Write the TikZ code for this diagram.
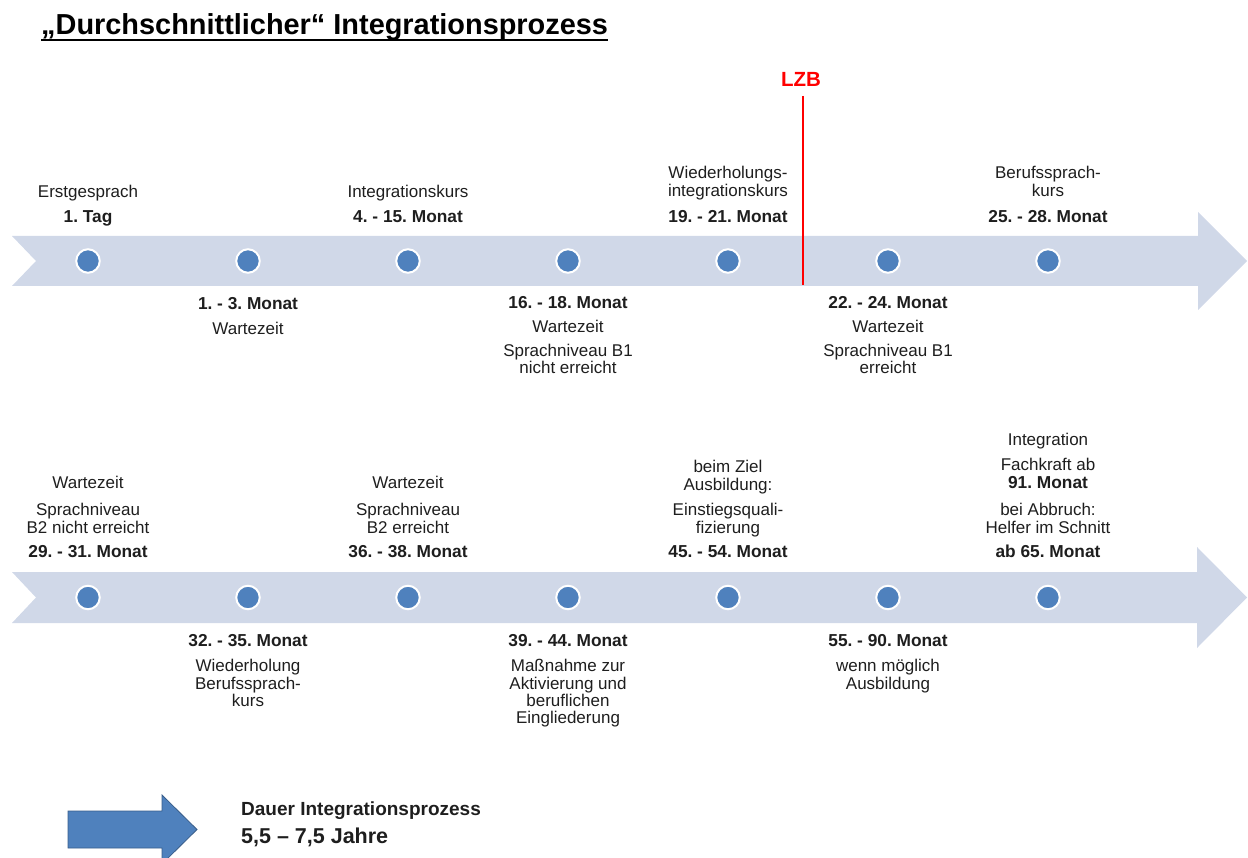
\documentclass[tikz,border=0pt]{standalone}
\usepackage{fontspec}
\setmainfont{Liberation Sans}
\usetikzlibrary{calc}
\frenchspacing
\definecolor{bandc}{HTML}{D0D8E8}
\definecolor{dotc}{HTML}{4F81BD}
\definecolor{arrowline}{HTML}{385D8A}
\definecolor{textc}{HTML}{1E1E1E}
\definecolor{lzbred}{HTML}{FF0000}
\tikzset{
  txt/.style={anchor=base, inner sep=0pt, text=textc, font=\frenchspacing\fontsize{17}{20}\selectfont},
  btxt/.style={txt, font=\frenchspacing\fontsize{17.3}{20}\selectfont\bfseries},
  dot/.style={circle, fill=dotc, draw=white, line width=2pt, minimum size=23.5pt, inner sep=0pt},
  band/.style={fill=bandc, draw=none}
}
\begin{document}
\begin{tikzpicture}[x=1pt,y=-1pt]
\useasboundingbox (0,0) rectangle (1248,858);
\clip (0,0) rectangle (1248,858);

% title
\node[anchor=base west, inner sep=0pt, font=\fontsize{28.9}{32}\selectfont\bfseries] (title) at (41,35) {„Durchschnittlicher“ Integrationsprozess};
\draw[line width=2.2pt] ($(title.base west)+(0,4.8)$) -- ($(title.base east)+(0,4.8)$);

% bands
\fill[band] (12,236) -- (1198,236) -- (1198,212) -- (1247,261) -- (1198,310) -- (1198,286) -- (12,286) -- (36,261) -- cycle;
\fill[band] (12,572) -- (1197,572) -- (1197,547) -- (1247,597.5) -- (1197,648) -- (1197,623) -- (12,623) -- (36,597.5) -- cycle;

% LZB
\node[anchor=base, inner sep=0pt, text=lzbred, font=\fontsize{20.5}{22}\selectfont\bfseries] (lzb) at (801,87) {LZB};
\coordinate (lzbtop) at (803,96);
\coordinate (lzbbot) at (803,285);
\draw[lzbred, line width=1.3pt] (lzbtop) -- (lzbbot);

% dots
\foreach \i/\x in {1/88,2/248,3/408,4/568,5/728,6/888,7/1048}{
  \node[dot] (a\i) at (\x,261) {};
  \node[dot] (b\i) at (\x,597.5) {};
}

% row 1 texts
\node[txt]  (a1t1) at (88,198) {Erstgesprach};
\node[btxt] (a1t2) at (88,223) {1. Tag};

\node[btxt] (a2t1) at (248,310) {1. - 3. Monat};
\node[txt]  (a2t2) at (248,335) {Wartezeit};

\node[txt]  (a3t1) at (408,198) {Integrationskurs};
\node[btxt] (a3t2) at (408,223) {4. - 15. Monat};

\node[btxt] (a4t1) at (568,309) {16. - 18. Monat};
\node[txt]  (a4t2) at (568,333) {Wartezeit};
\node[txt]  (a4t3) at (568,357) {Sprachniveau B1};
\node[txt]  (a4t4) at (568,374) {nicht erreicht};

\node[txt]  (a5t1) at (728,179) {Wiederholungs-};
\node[txt]  (a5t2) at (728,197) {integrationskurs};
\node[btxt] (a5t3) at (728,223) {19. - 21. Monat};

\node[btxt] (a6t1) at (888,309) {22. - 24. Monat};
\node[txt]  (a6t2) at (888,333) {Wartezeit};
\node[txt]  (a6t3) at (888,357) {Sprachniveau B1};
\node[txt]  (a6t4) at (888,374) {erreicht};

\node[txt]  (a7t1) at (1048,179) {Berufssprach-};
\node[txt]  (a7t2) at (1048,197) {kurs};
\node[btxt] (a7t3) at (1048,223) {25. - 28. Monat};

% row 2 texts
\node[txt]  (b1t1) at (88,489) {Wartezeit};
\node[txt]  (b1t2) at (88,515) {Sprachniveau};
\node[txt]  (b1t3) at (88,533) {B2 nicht erreicht};
\node[btxt] (b1t4) at (88,557) {29. - 31. Monat};

\node[btxt] (b2t1) at (248,646) {32. - 35. Monat};
\node[txt]  (b2t2) at (248,671) {Wiederholung};
\node[txt]  (b2t3) at (248,689) {Berufssprach-};
\node[txt]  (b2t4) at (248,706) {kurs};

\node[txt]  (b3t1) at (408,489) {Wartezeit};
\node[txt]  (b3t2) at (408,515) {Sprachniveau};
\node[txt]  (b3t3) at (408,533) {B2 erreicht};
\node[btxt] (b3t4) at (408,557) {36. - 38. Monat};

\node[btxt] (b4t1) at (568,646) {39. - 44. Monat};
\node[txt]  (b4t2) at (568,671) {Maßnahme zur};
\node[txt]  (b4t3) at (568,689) {Aktivierung und};
\node[txt]  (b4t4) at (568,706) {beruflichen};
\node[txt]  (b4t5) at (568,723) {Eingliederung};

\node[txt]  (b5t1) at (728,472) {beim Ziel};
\node[txt]  (b5t2) at (728,490) {Ausbildung:};
\node[txt]  (b5t3) at (728,515) {Einstiegsquali-};
\node[txt]  (b5t4) at (728,533) {fizierung};
\node[btxt] (b5t5) at (728,557) {45. - 54. Monat};

\node[btxt] (b6t1) at (888,646) {55. - 90. Monat};
\node[txt]  (b6t2) at (888,671) {wenn möglich};
\node[txt]  (b6t3) at (888,689) {Ausbildung};

\node[txt]  (b7t1) at (1048,446) {Integration};
\node[txt]  (b7t2) at (1048,471) {Fachkraft ab};
\node[btxt] (b7t3) at (1048,489) {91. Monat};
\node[txt]  (b7t4) at (1048,515) {bei Abbruch:};
\node[txt]  (b7t5) at (1048,533) {Helfer im Schnitt};
\node[btxt] (b7t6) at (1048,557) {ab 65. Monat};

% bottom legend arrow
\filldraw[fill=dotc, draw=arrowline, line width=0.8pt] (68,811) -- (162,811) -- (162,795) -- (197,829.5) -- (162,864) -- (162,848) -- (68,848) -- cycle;
\node[anchor=base west, inner sep=0pt, text=textc, font=\fontsize{19}{21}\selectfont\bfseries] (dauer) at (241,815) {Dauer Integrationsprozess};
\node[anchor=base west, inner sep=0pt, text=textc, font=\fontsize{21.5}{24}\selectfont\bfseries] (jahre) at (241,843) {5,5 – 7,5 Jahre};
\end{tikzpicture}
\end{document}
